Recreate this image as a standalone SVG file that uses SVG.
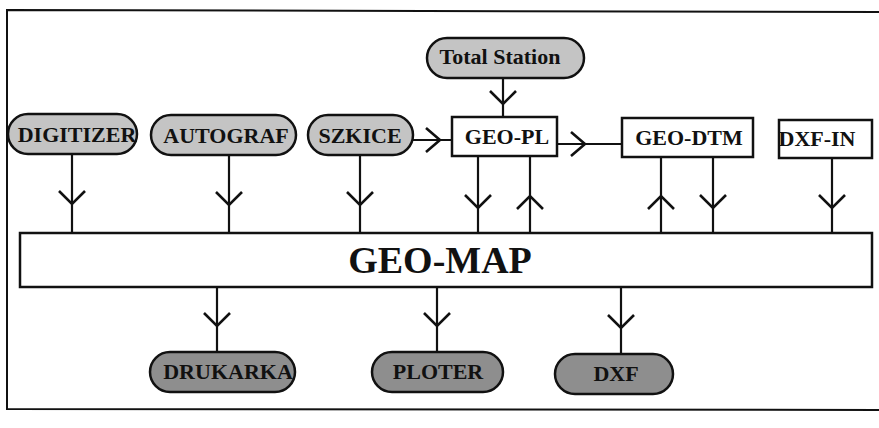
<svg xmlns="http://www.w3.org/2000/svg" xmlns:xlink="http://www.w3.org/1999/xlink" width="879" height="428" viewBox="0 0 879 428">
<style>
  .frame{fill:none;stroke:#111;stroke-width:2}
  .pill{fill:#c4c4c4;stroke:#111;stroke-width:2.5}
  .pill.dark{fill:#8e8e8e}
  .box{fill:#fff;stroke:#111;stroke-width:2.5}
  .lbl{font-family:"Liberation Serif","Times New Roman",serif;font-weight:bold;font-size:22px;fill:#111;text-anchor:middle}
  .big{font-size:38px}
  .ln{fill:none;stroke:#111;stroke-width:2.2}
  .chev{fill:none;stroke:#111;stroke-width:2.6;stroke-linejoin:miter}
</style>
<defs>
  <path id="cd" class="chev" d="M-13,-13 L0,0 L13,-13"/>
  <path id="cu" class="chev" d="M-13,13 L0,0 L13,13"/>
  <path id="cr" class="chev" d="M-14,-12 L0,0 L-14,12"/>
</defs>
<rect width="879" height="428" fill="#fff"/>
<path class="frame" d="M880,12 L7,10 L7,409 L880,410"/>

<g id="connectors">
  <line class="ln" x1="503" y1="78" x2="503" y2="117"/>
  <use xlink:href="#cd" x="503" y="104"/>
  <line class="ln" x1="413" y1="140" x2="452" y2="140"/>
  <use xlink:href="#cr" x="440" y="140"/>
  <line class="ln" x1="557" y1="144" x2="622" y2="144"/>
  <use xlink:href="#cr" x="585" y="144"/>
  <line class="ln" x1="72" y1="154" x2="72" y2="233"/>
  <use xlink:href="#cd" x="72" y="204"/>
  <line class="ln" x1="229" y1="155" x2="229" y2="233"/>
  <use xlink:href="#cd" x="229" y="205"/>
  <line class="ln" x1="360" y1="155" x2="360" y2="233"/>
  <use xlink:href="#cd" x="360" y="205"/>
  <line class="ln" x1="478" y1="156" x2="478" y2="233"/>
  <use xlink:href="#cd" x="478" y="208"/>
  <line class="ln" x1="530" y1="156" x2="530" y2="233"/>
  <use xlink:href="#cu" x="530" y="196"/>
  <line class="ln" x1="661" y1="157" x2="661" y2="234"/>
  <use xlink:href="#cu" x="661" y="196"/>
  <line class="ln" x1="713" y1="157" x2="713" y2="234"/>
  <use xlink:href="#cd" x="713" y="208"/>
  <line class="ln" x1="832" y1="158" x2="832" y2="235"/>
  <use xlink:href="#cd" x="832" y="208"/>
  <line class="ln" x1="217" y1="286" x2="217" y2="352"/>
  <use xlink:href="#cd" x="217" y="326"/>
  <line class="ln" x1="437" y1="287" x2="437" y2="352"/>
  <use xlink:href="#cd" x="437" y="326"/>
  <line class="ln" x1="621" y1="288" x2="621" y2="354"/>
  <use xlink:href="#cd" x="621" y="328"/>
</g>

<g id="total-station">
  <rect class="pill" x="427" y="38" width="157" height="40" rx="20"/>
  <text class="lbl" x="500" y="64">Total Station</text>
</g>
<g id="digitizer">
  <rect class="pill" x="8" y="114" width="129" height="40" rx="20"/>
  <text class="lbl" x="77" y="142">DIGITIZER</text>
</g>
<g id="autograf">
  <rect class="pill" x="151" y="115" width="145" height="40" rx="20"/>
  <text class="lbl" x="226" y="143">AUTOGRAF</text>
</g>
<g id="szkice">
  <rect class="pill" x="308" y="115" width="105" height="40" rx="20"/>
  <text class="lbl" x="360" y="143">SZKICE</text>
</g>
<g id="geo-pl">
  <rect class="box" x="452" y="117" width="105" height="39"/>
  <text class="lbl" x="507" y="144">GEO-PL</text>
</g>
<g id="geo-dtm">
  <rect class="box" x="622" y="118" width="131" height="39"/>
  <text class="lbl" x="689" y="145">GEO-DTM</text>
</g>
<g id="dxf-in">
  <rect class="box" x="779" y="120" width="93" height="38"/>
  <text class="lbl" x="817" y="146">DXF-IN</text>
</g>
<g id="geo-map">
  <rect class="box" x="20" y="233" width="852" height="54"/>
  <text class="lbl big" x="440" y="273">GEO-MAP</text>
</g>
<g id="drukarka">
  <rect class="pill dark" x="150" y="352" width="145" height="40" rx="20"/>
  <text class="lbl" x="228" y="379">DRUKARKA</text>
</g>
<g id="ploter">
  <rect class="pill dark" x="372" y="352" width="131" height="40" rx="20"/>
  <text class="lbl" x="438" y="379">PLOTER</text>
</g>
<g id="dxf">
  <rect class="pill dark" x="555" y="354" width="118" height="40" rx="20"/>
  <text class="lbl" x="616" y="381">DXF</text>
</g>
</svg>
